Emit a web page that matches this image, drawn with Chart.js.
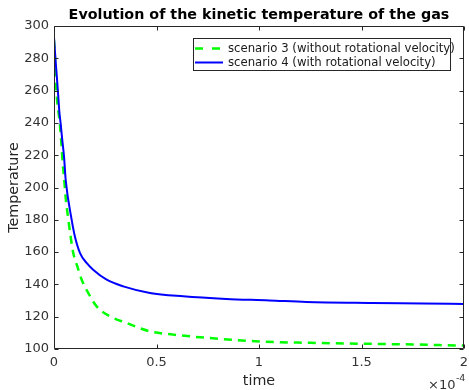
<!DOCTYPE html>
<html>
<head>
<meta charset="utf-8">
<script src="https://cdn.jsdelivr.net/npm/chart.js@4"></script>
<style>
html,body{margin:0;padding:0;background:#fff;}
canvas{display:block;}
</style>
</head>
<body>
<canvas id="c" width="469" height="390"></canvas>
<script>
// ---- data (time in units of 1e-4) ----
const titleText = 'Evolution of the kinetic temperature of the gas';
const xLabelText = 'time';
const yLabelText = 'Temperature';
const xExponentBase = '\u00d710';
const xExponent = '-4';

const seriesLabels = ['scenario 3 (without rotational velocity)', 'scenario 4 (with rotational velocity)'];

const tScenario3 = [0, 0.005, 0.01, 0.016, 0.029, 0.037, 0.042, 0.049, 0.058, 0.070, 0.081, 0.094, 0.114, 0.135, 0.167, 0.208, 0.273, 0.354, 0.468, 0.581, 0.76, 1.0, 1.25, 1.49, 1.75, 1.96, 2.0];
const tempScenario3 = [291, 279, 263, 253, 239, 225.5, 216, 206, 192.4, 180.1, 169.7, 159.4, 151.1, 142.9, 134.7, 126.4, 120.2, 116.1, 110.9, 108.9, 106.8, 104.7, 103.8, 103.3, 102.8, 102.2, 102.1];

const tScenario4 = [0, 0.008, 0.013, 0.02, 0.026, 0.033, 0.039, 0.049, 0.057, 0.086, 0.102, 0.127, 0.159, 0.191, 0.257, 0.338, 0.468, 0.63, 0.84, 1.05, 1.23, 1.55, 1.8, 2.0];
const tempScenario4 = [293, 278, 270, 258, 247, 239, 231, 219, 204.8, 180.1, 169.7, 159.4, 153.3, 149.1, 142.9, 138.8, 134.7, 132.6, 131, 130.1, 129.1, 128.5, 128.2, 127.9];

const xTickValues = [0, 0.5, 1, 1.5, 2];
const xTickLabels = ['0', '0.5', '1', '1.5', '2'];
const yTickValues = [100, 120, 140, 160, 180, 200, 220, 240, 260, 280, 300];
const yTickLabels = ['100', '120', '140', '160', '180', '200', '220', '240', '260', '280', '300'];

// ---- styling ----
const FONT = 'DejaVu Sans';
const AXIS_COLOR = '#262626';
const GREEN = '#00ff00';
const BLUE = '#0000ff';

const toPoints = (xs, ys) => xs.map((x, i) => ({x: x, y: ys[i]}));

const frame = {
  id: 'frame',
  beforeDraw(chart) {
    const ctx = chart.ctx;
    ctx.save();
    ctx.fillStyle = '#fff';
    ctx.fillRect(0, 0, chart.width, chart.height);
    ctx.restore();
  },
  afterDatasetsDraw(chart) {
    const ctx = chart.ctx;
    const a = chart.chartArea;
    const xs = chart.scales.x, ys = chart.scales.y;
    const L = Math.round(a.left) + 0.5, R = Math.round(a.right) - 0.5;
    const T = Math.round(a.top) + 0.5, B = Math.round(a.bottom) - 0.5;
    ctx.save();
    ctx.strokeStyle = AXIS_COLOR;
    ctx.lineWidth = 1;
    ctx.beginPath();
    ctx.rect(L, T, R - L, B - T);
    ctx.stroke();
    const tl = 4;
    ctx.beginPath();
    xTickValues.forEach(v => {
      const px = Math.round(xs.getPixelForValue(v)) + 0.5;
      ctx.moveTo(px, B); ctx.lineTo(px, B - tl);
      ctx.moveTo(px, T); ctx.lineTo(px, T + tl);
    });
    yTickValues.forEach(v => {
      const py = Math.round(ys.getPixelForValue(v)) + 0.5;
      ctx.moveTo(L, py); ctx.lineTo(L + tl, py);
      ctx.moveTo(R, py); ctx.lineTo(R - tl, py);
    });
    ctx.stroke();

    // title centred on the plot area
    ctx.fillStyle = '#000';
    ctx.font = 'bold 14.3px "' + FONT + '"';
    ctx.textAlign = 'center';
    ctx.textBaseline = 'alphabetic';
    ctx.fillText(titleText, (a.left + a.right) / 2, 18.7);

    // legend
    const lx = 193.5, ly = 38.5, lw = 257, lh = 32;
    ctx.fillStyle = '#fff';
    ctx.fillRect(lx, ly, lw, lh);
    ctx.strokeStyle = AXIS_COLOR;
    ctx.lineWidth = 1;
    ctx.strokeRect(lx, ly, lw, lh);
    const rows = [48.5, 62.5];
    const ds = chart.data.datasets;
    ds.forEach((d, i) => {
      ctx.save();
      ctx.strokeStyle = d.borderColor;
      ctx.lineWidth = d.borderWidth;
      ctx.setLineDash(d.borderDash && d.borderDash.length ? [8, 9] : []);
      ctx.beginPath();
      ctx.moveTo(195, rows[i]);
      ctx.lineTo(223, rows[i]);
      ctx.stroke();
      ctx.restore();
      ctx.fillStyle = '#1a1a1a';
      ctx.font = '11.7px "' + FONT + '"';
      ctx.textBaseline = 'middle';
      ctx.textAlign = 'left';
      ctx.fillText(d.label, 228, rows[i]);
    });

    // x exponent
    ctx.fillStyle = '#333';
    ctx.textAlign = 'left';
    ctx.textBaseline = 'alphabetic';
    ctx.font = '13px "' + FONT + '"';
    ctx.fillText(xExponentBase, 428, 389);
    const w = ctx.measureText(xExponentBase).width;
    ctx.font = '9.5px "' + FONT + '"';
    ctx.fillText(xExponent, 428 + w + 0.5, 381);
    ctx.restore();
  }
};

new Chart(document.getElementById('c'), {
  type: 'line',
  data: {
    datasets: [
      {
        label: seriesLabels[0],
        data: toPoints(tScenario3, tempScenario3),
        borderColor: GREEN,
        backgroundColor: GREEN,
        borderWidth: 2.5,
        borderDash: [8, 6],
        pointRadius: 0,
        fill: false,
        cubicInterpolationMode: 'monotone',
        order: 1
      },
      {
        label: seriesLabels[1],
        data: toPoints(tScenario4, tempScenario4),
        borderColor: BLUE,
        backgroundColor: BLUE,
        borderWidth: 2,
        pointRadius: 0,
        fill: false,
        cubicInterpolationMode: 'monotone',
        order: 0
      }
    ]
  },
  options: {
    responsive: false,
    animation: false,
    devicePixelRatio: 1,
    layout: {padding: {left: 0, right: 5, top: 26, bottom: 0}},
    plugins: {
      legend: {display: false},
      tooltip: {enabled: false},
      title: {display: false}
    },
    scales: {
      x: {
        type: 'linear',
        min: 0, max: 2,
        afterBuildTicks: s => { s.ticks = xTickValues.map(v => ({value: v})); },
        afterFit: s => { s.height = 41; s.paddingLeft = 0; s.paddingRight = 0; },
        grid: {display: false, drawTicks: false},
        border: {display: false},
        ticks: {
          autoSkip: false, maxRotation: 0, padding: 6,
          color: '#333',
          font: {family: FONT, size: 13},
          callback: (v) => { const i = xTickValues.indexOf(v); return i >= 0 ? xTickLabels[i] : ''; }
        },
        title: {
          display: true, text: xLabelText, color: '#262626',
          font: {family: FONT, size: 14.3, lineHeight: 1.2},
          padding: {top: 0, bottom: 0}
        }
      },
      y: {
        type: 'linear',
        min: 100, max: 300,
        afterBuildTicks: s => { s.ticks = yTickValues.map(v => ({value: v})); },
        afterFit: s => { s.width = 54; s.paddingTop = 0; s.paddingBottom = 0; },
        grid: {display: false, drawTicks: false},
        border: {display: false},
        ticks: {
          autoSkip: false, padding: 5,
          color: '#333',
          font: {family: FONT, size: 13},
          callback: (v) => { const i = yTickValues.indexOf(v); return i >= 0 ? yTickLabels[i] : ''; }
        },
        title: {
          display: true, text: yLabelText, color: '#262626',
          font: {family: FONT, size: 14.3, lineHeight: 1.2},
          padding: {top: 6, bottom: 0}
        }
      }
    }
  },
  plugins: [frame]
});
</script>
</body>
</html>
